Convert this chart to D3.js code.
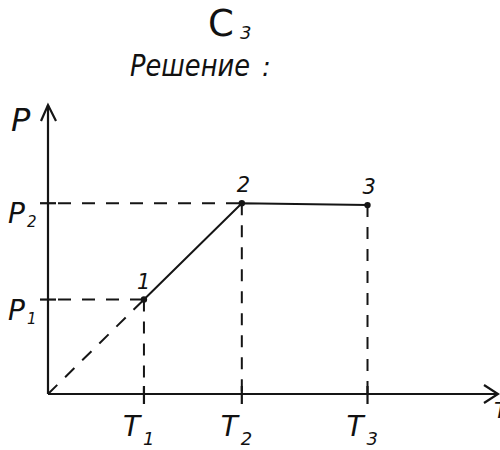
<!DOCTYPE html>
<html>
<head>
<meta charset="utf-8">
<script src="https://cdn.jsdelivr.net/npm/d3@7"></script>
<style>
  body { margin: 0; background: #fff; }
  text { font-family: "DejaVu Sans", sans-serif; font-style: italic; fill: #111; }
</style>
</head>
<body>
<svg width="500" height="450"></svg>
<script>
// state points of the process (T in units of T1, p in units of p1)
const pointNames = ["1", "2", "3"];
const tempValues = [1, 2.02, 3.33];
const pressValues = [1, 2.02, 2.0];
const tempTicks = ["T", "T", "T"];
const tempSubs = ["1", "2", "3"];
const pressTicks = ["P", "P"];
const pressSubs = ["1", "2"];

const origin = {x: 48, y: 394};
const width = 498 - origin.x,
      height = origin.y - 105;

const svg = d3.select("svg");
const ink = "#151515";

const x = d3.scaleLinear().domain([0, 4.69]).range([origin.x, origin.x + width]);
const y = d3.scaleLinear().domain([0, 3.06]).range([origin.y, origin.y - height]);

const pts = pointNames.map((name, i) => ({name, t: tempValues[i], p: pressValues[i]}));

// title
svg.append("text").attr("x", 208).attr("y", 36).attr("font-size", 37)
    .style("font-style", "normal").text("C");
svg.append("text").attr("x", 240).attr("y", 39).attr("font-size", 18).text("3");
svg.append("text").attr("x", 130).attr("y", 76).attr("font-size", 31)
    .attr("textLength", 120).attr("lengthAdjust", "spacingAndGlyphs").text("Решение");
svg.append("text").attr("x", 262).attr("y", 76).attr("font-size", 26).text(":");

// axes
svg.append("line")
    .attr("x1", x(0)).attr("y1", y(0)).attr("x2", x(0)).attr("y2", y.range()[1])
    .attr("stroke", ink).attr("stroke-width", 2.2);
svg.append("path")
    .attr("d", `M${x(0) - 7},${y.range()[1] + 16}L${x(0)},${y.range()[1]}L${x(0) + 8},${y.range()[1] + 16}`)
    .attr("fill", "none").attr("stroke", ink).attr("stroke-width", 2.2);
svg.append("line")
    .attr("x1", x(0)).attr("y1", y(0)).attr("x2", x.range()[1]).attr("y2", y(0))
    .attr("stroke", ink).attr("stroke-width", 2.2);
svg.append("path")
    .attr("d", `M${x.range()[1] - 14},${y(0) - 9}L${x.range()[1]},${y(0)}L${x.range()[1] - 14},${y(0) + 9}`)
    .attr("fill", "none").attr("stroke", ink).attr("stroke-width", 2.2);

svg.append("text").attr("x", 11).attr("y", 131).attr("font-size", 32).text("P");
// axis name, cut by the right edge as in the scan
svg.append("text").attr("x", 494).attr("y", 418).attr("font-size", 22).text("T");

// dashed guides
const dash = "13,11";
svg.append("line")
    .attr("x1", x(0)).attr("y1", y(0)).attr("x2", x(pts[0].t)).attr("y2", y(pts[0].p))
    .attr("stroke", ink).attr("stroke-width", 2).attr("stroke-dasharray", dash);

svg.selectAll(".hguide").data(pts.slice(0, 2)).join("line")
    .attr("class", "hguide")
    .attr("x1", x(0) + 10).attr("x2", d => x(d.t))
    .attr("y1", d => y(d.p)).attr("y2", d => y(d.p))
    .attr("stroke", ink).attr("stroke-width", 2).attr("stroke-dasharray", dash);

svg.selectAll(".vguide").data(pts).join("line")
    .attr("class", "vguide")
    .attr("x1", d => x(d.t)).attr("x2", d => x(d.t))
    .attr("y1", d => y(d.p)).attr("y2", y(0))
    .attr("stroke", ink).attr("stroke-width", 2).attr("stroke-dasharray", "12,10");

// process 1-2-3
svg.append("path")
    .datum(pts)
    .attr("d", d3.line().x(d => x(d.t)).y(d => y(d.p)))
    .attr("fill", "none").attr("stroke", ink).attr("stroke-width", 2);

svg.selectAll(".pt").data(pts).join("circle")
    .attr("class", "pt")
    .attr("cx", d => x(d.t)).attr("cy", d => y(d.p)).attr("r", 3.2)
    .attr("fill", ink);

svg.selectAll(".ptlabel").data(pts).join("text")
    .attr("class", "ptlabel")
    .attr("x", (d, i) => x(d.t) + (i === 0 ? -7 : -5))
    .attr("y", d => y(d.p) - 11)
    .attr("font-size", 21)
    .text(d => d.name);

// ticks on the T axis
const tTicks = svg.selectAll(".tt").data(pts).join("g").attr("class", "tt");
tTicks.append("line")
    .attr("x1", d => x(d.t)).attr("x2", d => x(d.t))
    .attr("y1", y(0) - 8).attr("y2", y(0) + 10)
    .attr("stroke", ink).attr("stroke-width", 2.2);
tTicks.append("text")
    .attr("x", d => x(d.t) - 21).attr("y", 436).attr("font-size", 28)
    .text((d, i) => tempTicks[i]);
tTicks.append("text")
    .attr("x", d => x(d.t) - 1).attr("y", 445).attr("font-size", 18)
    .text((d, i) => tempSubs[i]);

// ticks on the P axis
const pTicks = svg.selectAll(".pp").data(pts.slice(0, 2)).join("g").attr("class", "pp");
pTicks.append("line")
    .attr("x1", x(0) - 8).attr("x2", x(0) + 8)
    .attr("y1", d => y(d.p)).attr("y2", d => y(d.p))
    .attr("stroke", ink).attr("stroke-width", 2.2);
pTicks.append("text")
    .attr("x", 8).attr("y", d => y(d.p) + 20).attr("font-size", 28)
    .text((d, i) => pressTicks[i]);
pTicks.append("text")
    .attr("x", 27).attr("y", d => y(d.p) + 24).attr("font-size", 15)
    .text((d, i) => pressSubs[i]);
</script>
</body>
</html>
